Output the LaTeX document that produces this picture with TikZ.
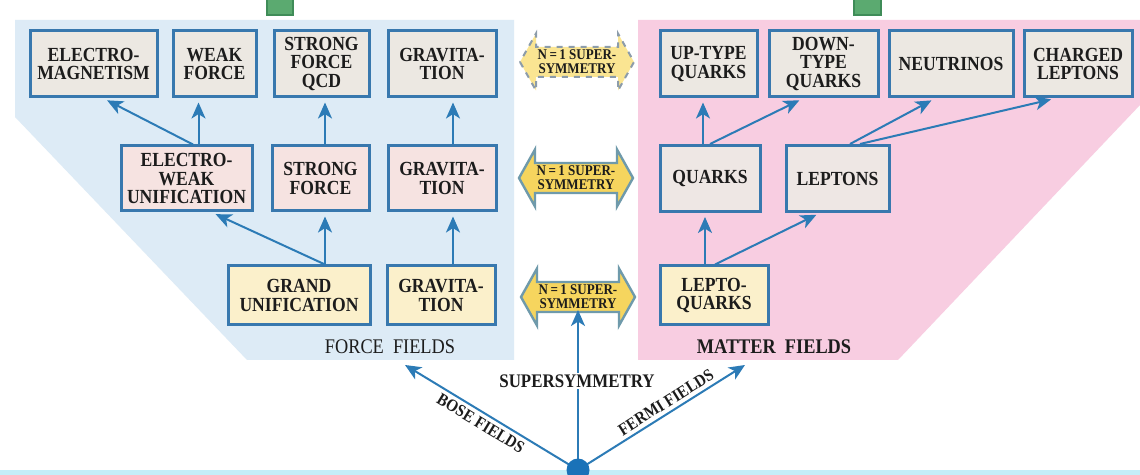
\documentclass[tikz,border=0pt]{standalone}
\usepackage{fontspec}
\setmainfont{Liberation Serif}
\newfontfamily\boxfont{Liberation Serif}[FakeStretch=0.88]
\usetikzlibrary{arrows.meta,calc}
\definecolor{panelblue}{HTML}{DDEBF6}
\definecolor{panelpink}{HTML}{F8CDE1}
\definecolor{boxblue}{HTML}{3878AE}
\definecolor{arrblue}{HTML}{2C7BB6}
\definecolor{topfill}{HTML}{ECE8E2}
\definecolor{midfill}{HTML}{F6E3E1}
\definecolor{midfillr}{HTML}{EEE7E4}
\definecolor{botfill}{HTML}{FBF0CB}
\definecolor{susyfill}{HTML}{F6D55E}
\definecolor{susyfilltop}{HTML}{FAE592}
\definecolor{susyborder}{HTML}{6F9AAB}
\definecolor{susydash}{HTML}{8C9CAA}
\definecolor{dotblue}{HTML}{1A72B8}
\definecolor{sqgreen}{HTML}{5BAA70}
\definecolor{sqgreendark}{HTML}{3F8C58}
\definecolor{txt}{HTML}{1C1C1C}
\definecolor{bottomcyan}{HTML}{C4EEF8}
\tikzset{
  fbox/.style={draw=boxblue, line width=1.5pt, align=center, inner sep=1pt, text=txt,
    font=\boxfont\bfseries\fontsize{10}{9.2}\selectfont},
  toprow/.style={fbox, fill=topfill, minimum height=33pt},
  midrow/.style={fbox, fill=midfill, minimum height=32.5pt},
  midrowr/.style={fbox, fill=midfillr, minimum height=33pt},
  botrow/.style={fbox, fill=botfill, minimum height=29.5pt},
  arr/.style={draw=arrblue, line width=1pt, -{Stealth[length=8pt,width=7pt,inset=2.2pt]}, shorten >=2pt},
  susysolid/.style={fill=susyfill, draw=susyborder, line width=1.2pt},
  susydashed/.style={fill=susyfilltop, draw=susydash, line width=1pt, dashed},
  susytext/.style={align=center, inner sep=0pt, text=txt, font=\boxfont\bfseries\fontsize{7.4}{6.9}\selectfont},
  fieldlabel/.style={text=txt, inner sep=1pt, font=\boxfont\fontsize{10.4}{11}\selectfont},
  rootlabel/.style={inner sep=2.2pt, text=txt, font=\boxfont\bfseries\fontsize{8.6}{9}\selectfont},
}
\newcommand{\susyarrow}[3]{%
  \coordinate (#1) at (#2);
  \draw[#3, shift={(#1)}] (-57,0) -- (-41,28.5) -- (-41,15) -- (41,15) -- (41,28.5) -- (57,0)
     -- (41,-28.5) -- (41,-15) -- (-41,-15) -- (-41,-28.5) -- cycle;
  \node[susytext] (#1t) at (#1) {N\,=\,1 SUPER-\\SYMMETRY};
}
\begin{document}
\begin{tikzpicture}[x=0.5pt,y=-0.5pt]
\useasboundingbox (0,0) rectangle (1140,475);
\fill[white] (0,0) rectangle (1140,475);
% bottom strip
\fill[bottomcyan] (0,470) rectangle (1140,475);
% green squares
\draw[fill=sqgreen, draw=sqgreendark, line width=0.6pt] (267,-3) rectangle (293,15);
\draw[fill=sqgreen, draw=sqgreendark, line width=0.6pt] (854,-3) rectangle (881,15);
% panels
\fill[panelblue] (15,20) -- (514,20) -- (514,360) -- (247,360) -- (15,117) -- cycle;
\fill[panelpink] (638,20) -- (1140,20) -- (1140,105) -- (898,360) -- (638,360) -- cycle;

% top row
\node[toprow, minimum width=63.5pt] (em) at (93.5,64) {ELECTRO-\\MAGNETISM};
\node[toprow, minimum width=41.5pt] (wf) at (214.5,64) {WEAK\\FORCE};
\node[toprow, minimum width=47.5pt] (qcd) at (321.5,64) {STRONG\\FORCE\\QCD};
\node[toprow, minimum width=54pt] (ga) at (442,64) {GRAVITA-\\TION};
\node[toprow, minimum width=48.5pt] (up) at (708.5,64) {UP-TYPE\\QUARKS};
\node[toprow, minimum width=54.5pt] (down) at (823.5,64) {DOWN-\\TYPE\\QUARKS};
\node[toprow, minimum width=62pt] (nu) at (951,64) {NEUTRINOS};
\node[toprow, minimum width=54pt] (cl) at (1078,64) {CHARGED\\LEPTONS};

% middle row
\node[midrow, minimum width=65.5pt] (ew) at (186.5,178.5) {ELECTRO-\\WEAK\\UNIFICATION};
\node[midrow, minimum width=48.5pt] (sf) at (320.5,178.5) {STRONG\\FORCE};
\node[midrow, minimum width=54pt] (gb) at (442,178.5) {GRAVITA-\\TION};
\node[midrowr, minimum width=50pt] (q) at (710,178.5) {QUARKS};
\node[midrowr, minimum width=51.5pt] (l) at (837.5,178.5) {LEPTONS};

% bottom row
\node[botrow, minimum width=71pt] (gu) at (299,295.5) {GRAND\\UNIFICATION};
\node[botrow, minimum width=54pt] (gc) at (441,295.5) {GRAVITA-\\TION};
\node[botrow, minimum width=54pt] (lq) at (714,295.5) {LEPTO-\\QUARKS};

% supersymmetry double arrows
\susyarrow{sa}{577,62}{susydashed}
\susyarrow{sb}{576,178}{susysolid}
\susyarrow{sc}{578,297}{susysolid}

% field labels
\node[fieldlabel] (ff) at (390,347) {FORCE\ \ FIELDS};
\node[fieldlabel, font=\boxfont\bfseries\fontsize{10.4}{11}\selectfont] (mf) at (774,347) {MATTER\ \ FIELDS};

% arrows force side
\draw[arr] ([xshift=3.25pt]ew.north) -- ([xshift=5pt]em.south);
\draw[arr] ([xshift=6pt]ew.north) -- ([xshift=6pt]ew.north |- wf.south);
\draw[arr] ([xshift=2.25pt]sf.north) -- ([xshift=2.25pt]sf.north |- qcd.south);
\draw[arr] ([xshift=5.5pt]gb.north) -- ([xshift=5.5pt]gb.north |- ga.south);
\draw[arr] ([xshift=13pt]gu.north) -- ([xshift=12.75pt]ew.south);
\draw[arr] ([xshift=13pt]gu.north) -- ([xshift=13pt]gu.north |- sf.south);
\draw[arr] ([xshift=6pt]gc.north) -- ([xshift=6pt]gc.north |- gb.south);
% arrows matter side
\draw[arr] ([xshift=-3.5pt]q.north) -- ([xshift=-3.5pt]q.north |- up.south);
\draw[arr] (q.north) -- ([xshift=-10.25pt]down.south);
\draw[arr] ([xshift=6.25pt]l.north) -- ([xshift=-8pt]nu.south);
\draw[arr] ([xshift=11.25pt]l.north) -- ([xshift=-11.5pt]cl.south);
\draw[arr] ([xshift=-4.5pt]lq.north) -- ([xshift=-4.5pt]lq.north |- q.south);
\draw[arr] ([xshift=0.5pt]lq.north) -- ([xshift=-8.75pt]l.south);

% root
\coordinate (bosetip) at (405,365);
\coordinate (fermitip) at (745,365);
\coordinate (dot) at (578,470);
\draw[arr, shorten >=0pt] (dot) -- ($(sc)+(0,13)$);
\draw[arr, shorten >=0pt] (dot) -- (bosetip);
\draw[arr, shorten >=0pt] (dot) -- (fermitip);
\node[fill=white, inner sep=1pt, text=txt, font=\boxfont\bfseries\fontsize{9.6}{10}\selectfont] (susy) at (577,381) {SUPERSYMMETRY};
\node[circle, fill=dotblue, minimum size=11.5pt, inner sep=0pt] (rootdot) at (dot) {};
\path (bosetip) -- (dot) coordinate[pos=0.47] (bmid);
\path (dot) -- (fermitip) coordinate[pos=0.56] (fmid);
\node[rootlabel, rotate=-31.3, anchor=north] (bose) at (bmid) {BOSE FIELDS};
\node[rootlabel, rotate=32.2, anchor=south] (fermi) at (fmid) {FERMI FIELDS};
\end{tikzpicture}
\end{document}
